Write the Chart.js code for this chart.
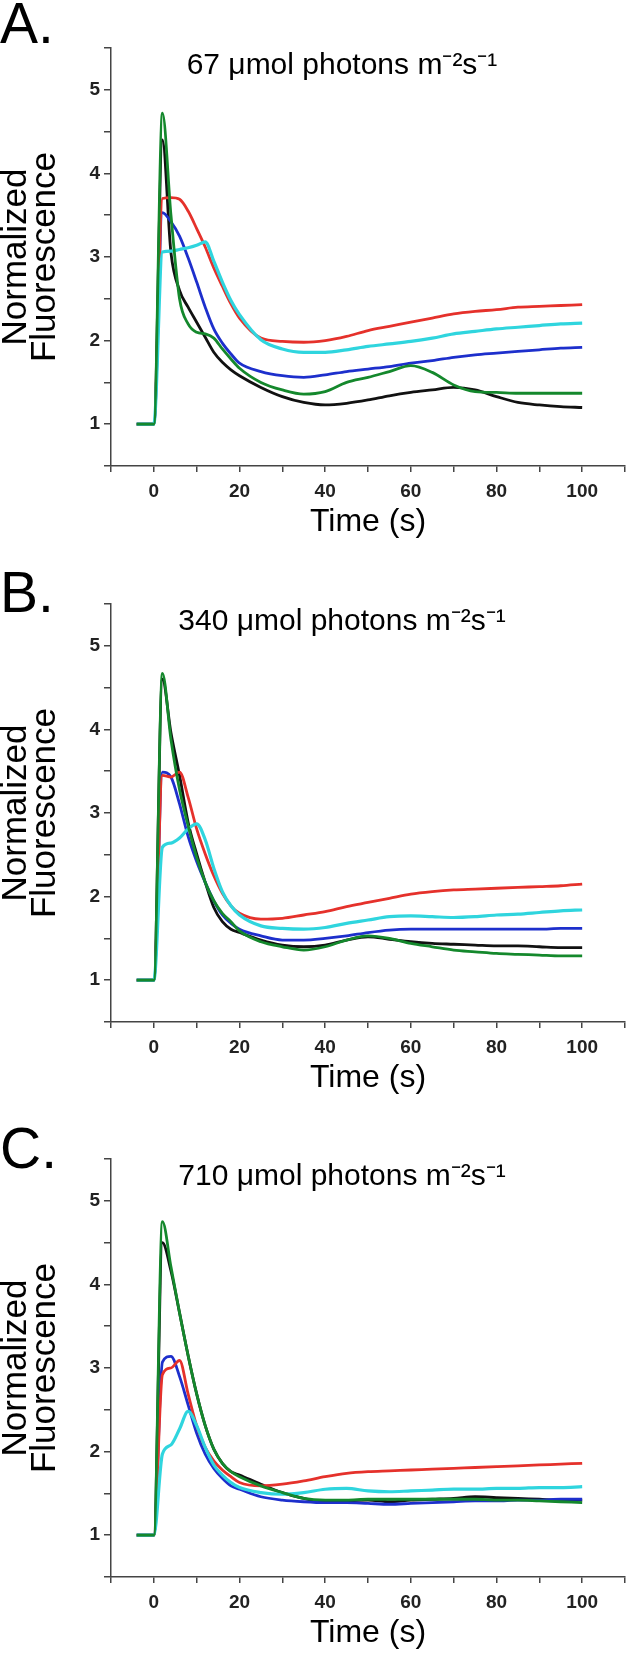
<!DOCTYPE html>
<html>
<head>
<meta charset="utf-8">
<script src="https://cdn.jsdelivr.net/npm/chart.js@4.4.0/dist/chart.umd.min.js"></script>
<style>
  body { margin: 0; background: #fff; }
  .panel { position: absolute; left: 0; width: 633px; height: 543px; }
</style>
</head>
<body>
<div class="panel" style="top:0"><canvas id="chartA"></canvas></div>
<div class="panel" style="top:556px"><canvas id="chartB"></canvas></div>
<div class="panel" style="top:1111px"><canvas id="chartC"></canvas></div>
<script>
// time points (s), shared by every trace
const time = [-4, -2, 0, 2, 4, 6, 8, 10, 12, 14, 16, 18, 20, 25, 30, 35, 40, 45, 50, 55, 60, 65, 70, 75, 80, 85, 90, 95, 100];

// A. 67 umol photons
const blackA = [1, 1, 1, 4.4, 3.05, 2.6, 2.4, 2.22, 2.04, 1.86, 1.74, 1.65, 1.58, 1.44, 1.33, 1.26, 1.23, 1.25, 1.29, 1.34, 1.38, 1.41, 1.44, 1.41, 1.33, 1.26, 1.23, 1.21, 1.2];
const greenA = [1, 1, 1, 4.72, 3.5, 2.5, 2.2, 2.1, 2.08, 2.03, 1.9, 1.78, 1.67, 1.5, 1.41, 1.36, 1.39, 1.5, 1.56, 1.63, 1.7, 1.62, 1.47, 1.39, 1.38, 1.37, 1.37, 1.37, 1.37];
const redA = [1, 1, 1, 3.7, 3.71, 3.69, 3.55, 3.34, 3.12, 2.87, 2.65, 2.44, 2.27, 2.03, 1.99, 1.98, 2.0, 2.05, 2.12, 2.17, 2.22, 2.27, 2.32, 2.35, 2.37, 2.4, 2.41, 2.42, 2.43];
const cyanA = [1, 1, 1, 3.06, 3.07, 3.09, 3.11, 3.14, 3.18, 2.95, 2.7, 2.48, 2.31, 2.01, 1.9, 1.86, 1.86, 1.89, 1.93, 1.96, 1.99, 2.03, 2.08, 2.11, 2.14, 2.16, 2.18, 2.2, 2.21];
const blueA = [1, 1, 1, 3.53, 3.42, 3.25, 2.99, 2.7, 2.4, 2.14, 1.97, 1.84, 1.73, 1.63, 1.58, 1.56, 1.59, 1.63, 1.66, 1.69, 1.73, 1.76, 1.8, 1.83, 1.85, 1.87, 1.89, 1.91, 1.92];

// B. 340 umol photons
const blackB = [1, 1, 1, 4.6, 3.96, 3.45, 2.89, 2.51, 2.17, 1.87, 1.7, 1.61, 1.57, 1.48, 1.42, 1.4, 1.42, 1.48, 1.52, 1.49, 1.46, 1.44, 1.43, 1.42, 1.41, 1.41, 1.4, 1.39, 1.39];
const greenB = [1, 1, 1, 4.67, 3.88, 3.28, 2.85, 2.47, 2.17, 1.95, 1.8, 1.7, 1.59, 1.46, 1.4, 1.36, 1.4, 1.48, 1.53, 1.5, 1.44, 1.4, 1.36, 1.34, 1.32, 1.31, 1.3, 1.29, 1.29];
const redB = [1, 1, 1, 3.45, 3.43, 3.49, 3.19, 2.81, 2.51, 2.25, 2.04, 1.89, 1.8, 1.73, 1.74, 1.78, 1.82, 1.88, 1.93, 1.98, 2.03, 2.06, 2.08, 2.09, 2.1, 2.11, 2.12, 2.13, 2.15];
const cyanB = [1, 1, 1, 2.59, 2.64, 2.7, 2.81, 2.87, 2.68, 2.34, 2.06, 1.89, 1.78, 1.65, 1.62, 1.61, 1.63, 1.68, 1.72, 1.76, 1.77, 1.76, 1.75, 1.76, 1.78, 1.79, 1.81, 1.83, 1.84];
const blueB = [1, 1, 1, 3.49, 3.43, 3.11, 2.72, 2.42, 2.17, 1.95, 1.78, 1.68, 1.61, 1.53, 1.48, 1.48, 1.5, 1.53, 1.57, 1.6, 1.61, 1.61, 1.61, 1.61, 1.61, 1.61, 1.61, 1.62, 1.62];

// C. 710 umol photons
const blackC = [1, 1, 1, 4.5, 4.16, 3.66, 3.15, 2.69, 2.31, 2.03, 1.86, 1.76, 1.72, 1.61, 1.51, 1.44, 1.4, 1.41, 1.42, 1.4, 1.42, 1.43, 1.44, 1.46, 1.45, 1.44, 1.43, 1.42, 1.42];
const greenC = [1, 1, 1, 4.75, 4.21, 3.66, 3.15, 2.69, 2.31, 2.03, 1.86, 1.76, 1.7, 1.59, 1.51, 1.44, 1.42, 1.42, 1.43, 1.43, 1.43, 1.43, 1.43, 1.43, 1.42, 1.42, 1.41, 1.4, 1.39];
const redC = [1, 1, 1, 2.92, 3.0, 3.09, 2.69, 2.31, 2.05, 1.89, 1.78, 1.7, 1.63, 1.59, 1.61, 1.65, 1.7, 1.74, 1.76, 1.77, 1.78, 1.79, 1.8, 1.81, 1.82, 1.83, 1.84, 1.85, 1.86];
const cyanC = [1, 1, 1, 1.97, 2.08, 2.27, 2.48, 2.31, 2.05, 1.84, 1.72, 1.63, 1.57, 1.51, 1.49, 1.51, 1.55, 1.56, 1.53, 1.52, 1.53, 1.54, 1.55, 1.55, 1.56, 1.56, 1.57, 1.57, 1.58];
const blueC = [1, 1, 1, 3.07, 3.14, 2.9, 2.56, 2.22, 1.97, 1.8, 1.68, 1.59, 1.55, 1.46, 1.42, 1.4, 1.39, 1.39, 1.38, 1.37, 1.38, 1.39, 1.4, 1.41, 1.41, 1.42, 1.42, 1.43, 1.43];

const xTicks = [0, 20, 40, 60, 80, 100];
const yTicks = [1, 2, 3, 4, 5];

const FONT = '"Liberation Sans", Arial, sans-serif';
const AXIS = "#444";

// panel letter and in-plot title
const panelText = {
  id: "panelText",
  afterDraw(chart, args, opts) {
    const ctx = chart.ctx;
    ctx.save();
    ctx.fillStyle = "#000";
    ctx.font = "57px " + FONT;
    ctx.textBaseline = "alphabetic";
    ctx.fillText(opts.letter, 0, opts.letterY);
    ctx.font = "30px " + FONT;
    ctx.textAlign = "center";
    ctx.fillText(opts.title, 342, 74);
    ctx.restore();
  },
};

function trace(vals, color, width) {
  return {
    data: time.map((t, i) => ({ x: t, y: vals[i] })),
    borderColor: color,
    borderWidth: width,
    pointRadius: 0,
    fill: false,
    cubicInterpolationMode: "monotone",
  };
}

function makeChart(id, letter, letterY, title, black, green, red, cyan, blue) {
  return new Chart(document.getElementById(id), {
    type: "line",
    data: {
      datasets: [
        trace(green, "#14882c", 2.8),
        trace(cyan, "#2fd5de", 3.2),
        trace(red, "#e5312b", 2.8),
        trace(blue, "#1d2fcc", 2.8),
        trace(black, "#111111", 2.8),
      ],
    },
    options: {
      responsive: true,
      maintainAspectRatio: false,
      animation: false,
      layout: { padding: { top: 48, right: 2, left: 0, bottom: 0 } },
      plugins: {
        legend: { display: false },
        tooltip: { enabled: false },
        panelText: { letter: letter, letterY: letterY, title: title },
      },
      scales: {
        x: {
          type: "linear",
          min: -10,
          max: 110,
          afterFit: (s) => { s.height = 77; },
          ticks: {
            stepSize: 10,
            autoSkip: false,
            maxRotation: 0,
            padding: 8,
            color: "#222",
            font: { family: FONT, size: 19, weight: "bold" },
            callback: (v) => (xTicks.includes(v) ? v : ""),
          },
          grid: { drawOnChartArea: false, tickLength: 6, color: AXIS, lineWidth: 1.5 },
          border: { color: AXIS, width: 1.5 },
          title: {
            display: true,
            text: "Time (s)",
            color: "#000",
            font: { family: FONT, size: 32 },
            padding: { top: 0, bottom: 2 },
          },
        },
        y: {
          min: 0.5,
          max: 5.5,
          afterFit: (s) => { s.width = 111; },
          ticks: {
            stepSize: 0.5,
            autoSkip: false,
            padding: 4,
            color: "#222",
            font: { family: FONT, size: 19, weight: "bold" },
            callback: (v) => (yTicks.includes(v) ? v : ""),
          },
          grid: { drawOnChartArea: false, tickLength: 7, color: AXIS, lineWidth: 1.5 },
          border: { color: AXIS, width: 1.5 },
          title: {
            display: true,
            text: ["Normalized", "Fluorescence"],
            color: "#000",
            font: { family: FONT, size: 35, lineHeight: 0.83 },
            padding: { top: 1.5, bottom: 0 },
          },
        },
      },
    },
    plugins: [panelText],
  });
}

makeChart("chartA", "A.", 43, "67 \u03bcmol photons m\u207b\u00b2s\u207b\u00b9", blackA, greenA, redA, cyanA, blueA);
makeChart("chartB", "B.", 56, "340 \u03bcmol photons m\u207b\u00b2s\u207b\u00b9", blackB, greenB, redB, cyanB, blueB);
makeChart("chartC", "C.", 57, "710 \u03bcmol photons m\u207b\u00b2s\u207b\u00b9", blackC, greenC, redC, cyanC, blueC);
</script>
</body>
</html>
